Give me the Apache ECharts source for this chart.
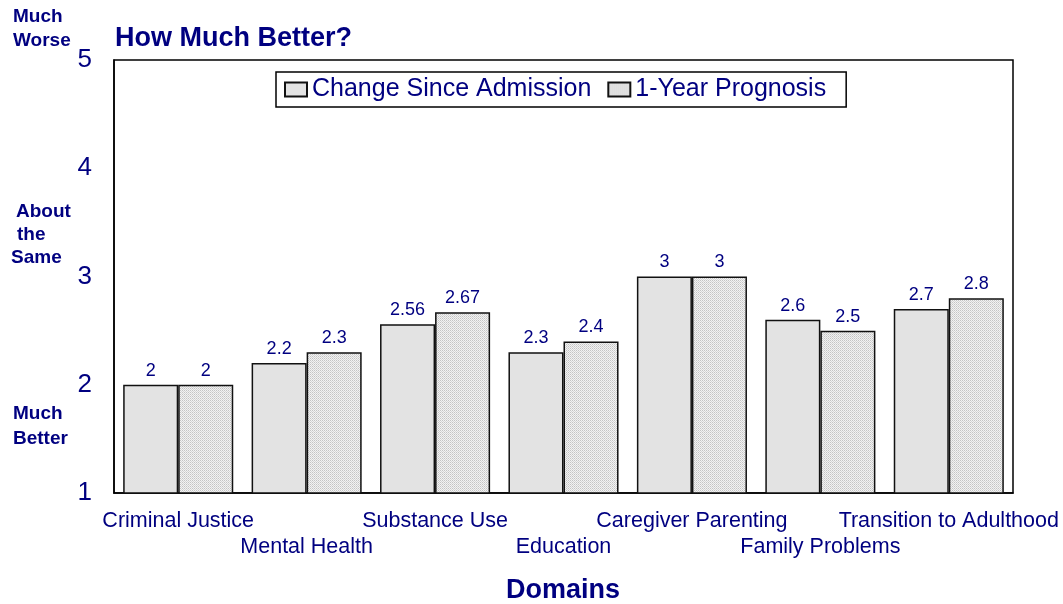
<!DOCTYPE html>
<html>
<head>
<meta charset="utf-8">
<script src="https://cdn.jsdelivr.net/npm/echarts@6/dist/echarts.min.js"></script>
<style>
  html, body { margin: 0; padding: 0; background: #fff; }
  #main { width: 1063px; height: 604px; }
</style>
</head>
<body>
<div id="main"></div>
<script>
var domains = ['Criminal Justice', 'Mental Health', 'Substance Use', 'Education',
  'Caregiver Parenting', 'Family Problems', 'Transition to Adulthood'];
var sinceAdmission = [2, 2.2, 2.56, 2.3, 3, 2.6, 2.7];
var prognosis = [2, 2.3, 2.67, 2.4, 3, 2.5, 2.8];
var seriesNames = ['Change Since Admission', '1-Year Prognosis'];
// side notes along the y axis
var sideNotes = [
  ['Much', 13, 17], ['Worse', 13, 41],
  ['About', 16, 212], ['the', 17, 235], ['Same', 11, 258],
  ['Much', 13, 414], ['Better', 13, 439]
];

var navy = '#000080';
var fam = '"Liberation Sans", Arial, sans-serif';

// stippled fill for the prognosis bars
var pat = document.createElement('canvas');
pat.width = 2; pat.height = 2;
var pc = pat.getContext('2d');
pc.fillStyle = '#f2f2f2'; pc.fillRect(0, 0, 2, 2);
pc.fillStyle = '#c4c4c4'; pc.fillRect(0, 0, 1, 1);
pc.fillStyle = '#d6d6d6'; pc.fillRect(1, 1, 1, 1);

var chart = echarts.init(document.getElementById('main'));

var graphics = sideNotes.map(function (n) {
  return {
    type: 'text', x: n[1], y: n[2],
    style: { text: n[0], fill: navy, font: 'bold 19px ' + fam, textVerticalAlign: 'middle' }
  };
});
graphics.push({
  type: 'text', x: 115, y: 39,
  style: { text: 'How Much Better?', fill: navy, font: 'bold 27px ' + fam, textVerticalAlign: 'middle' }
});
graphics.push({
  type: 'text', x: 563, y: 591,
  style: { text: 'Domains', fill: navy, font: 'bold 27px ' + fam,
    textAlign: 'center', textVerticalAlign: 'middle' }
});

var labelStyle = {
  show: true, position: 'top', distance: 5,
  color: navy, fontSize: 18, fontFamily: fam
};

chart.setOption({
  animation: false,
  textStyle: { fontFamily: fam },
  grid: {
    left: 114, right: 50, top: 60, bottom: 111,
    show: true, borderColor: '#000', borderWidth: 1.5, backgroundColor: 'transparent'
  },
  graphic: graphics,
  legend: {
    left: 276, top: 72,
    padding: [5, 20, 5, 8],
    backgroundColor: '#fff',
    borderColor: '#000', borderWidth: 1.5, borderRadius: 0,
    icon: 'rect',
    itemWidth: 22, itemHeight: 14, itemGap: 16,
    textStyle: { color: navy, fontSize: 25 },
    data: seriesNames
  },
  xAxis: {
    type: 'category',
    data: domains,
    axisLine: { show: true, lineStyle: { color: '#000', width: 1.5 } },
    axisTick: { show: false },
    axisLabel: {
      interval: 0, hideOverlap: false, margin: 15,
      color: navy, fontSize: 21.5, lineHeight: 26,
      formatter: function (v, i) { return i % 2 ? '\n' + v : v; }
    }
  },
  yAxis: {
    type: 'value', min: 1, max: 5, interval: 1,
    axisLine: { show: true, lineStyle: { color: '#000', width: 1.5 } },
    axisTick: { show: false },
    splitLine: { show: false },
    axisLabel: { color: navy, fontSize: 26, margin: 22 }
  },
  series: [
    {
      name: seriesNames[0], type: 'bar', data: sinceAdmission,
      barGap: '0%', barCategoryGap: '14.3%',
      itemStyle: { color: '#e3e3e3', borderColor: '#111', borderWidth: 1.5 },
      label: labelStyle
    },
    {
      name: seriesNames[1], type: 'bar', data: prognosis,
      barGap: '0%', barCategoryGap: '14.3%',
      itemStyle: { color: { image: pat, repeat: 'repeat' }, borderColor: '#111', borderWidth: 1.5 },
      label: labelStyle
    }
  ]
});
</script>
</body>
</html>
